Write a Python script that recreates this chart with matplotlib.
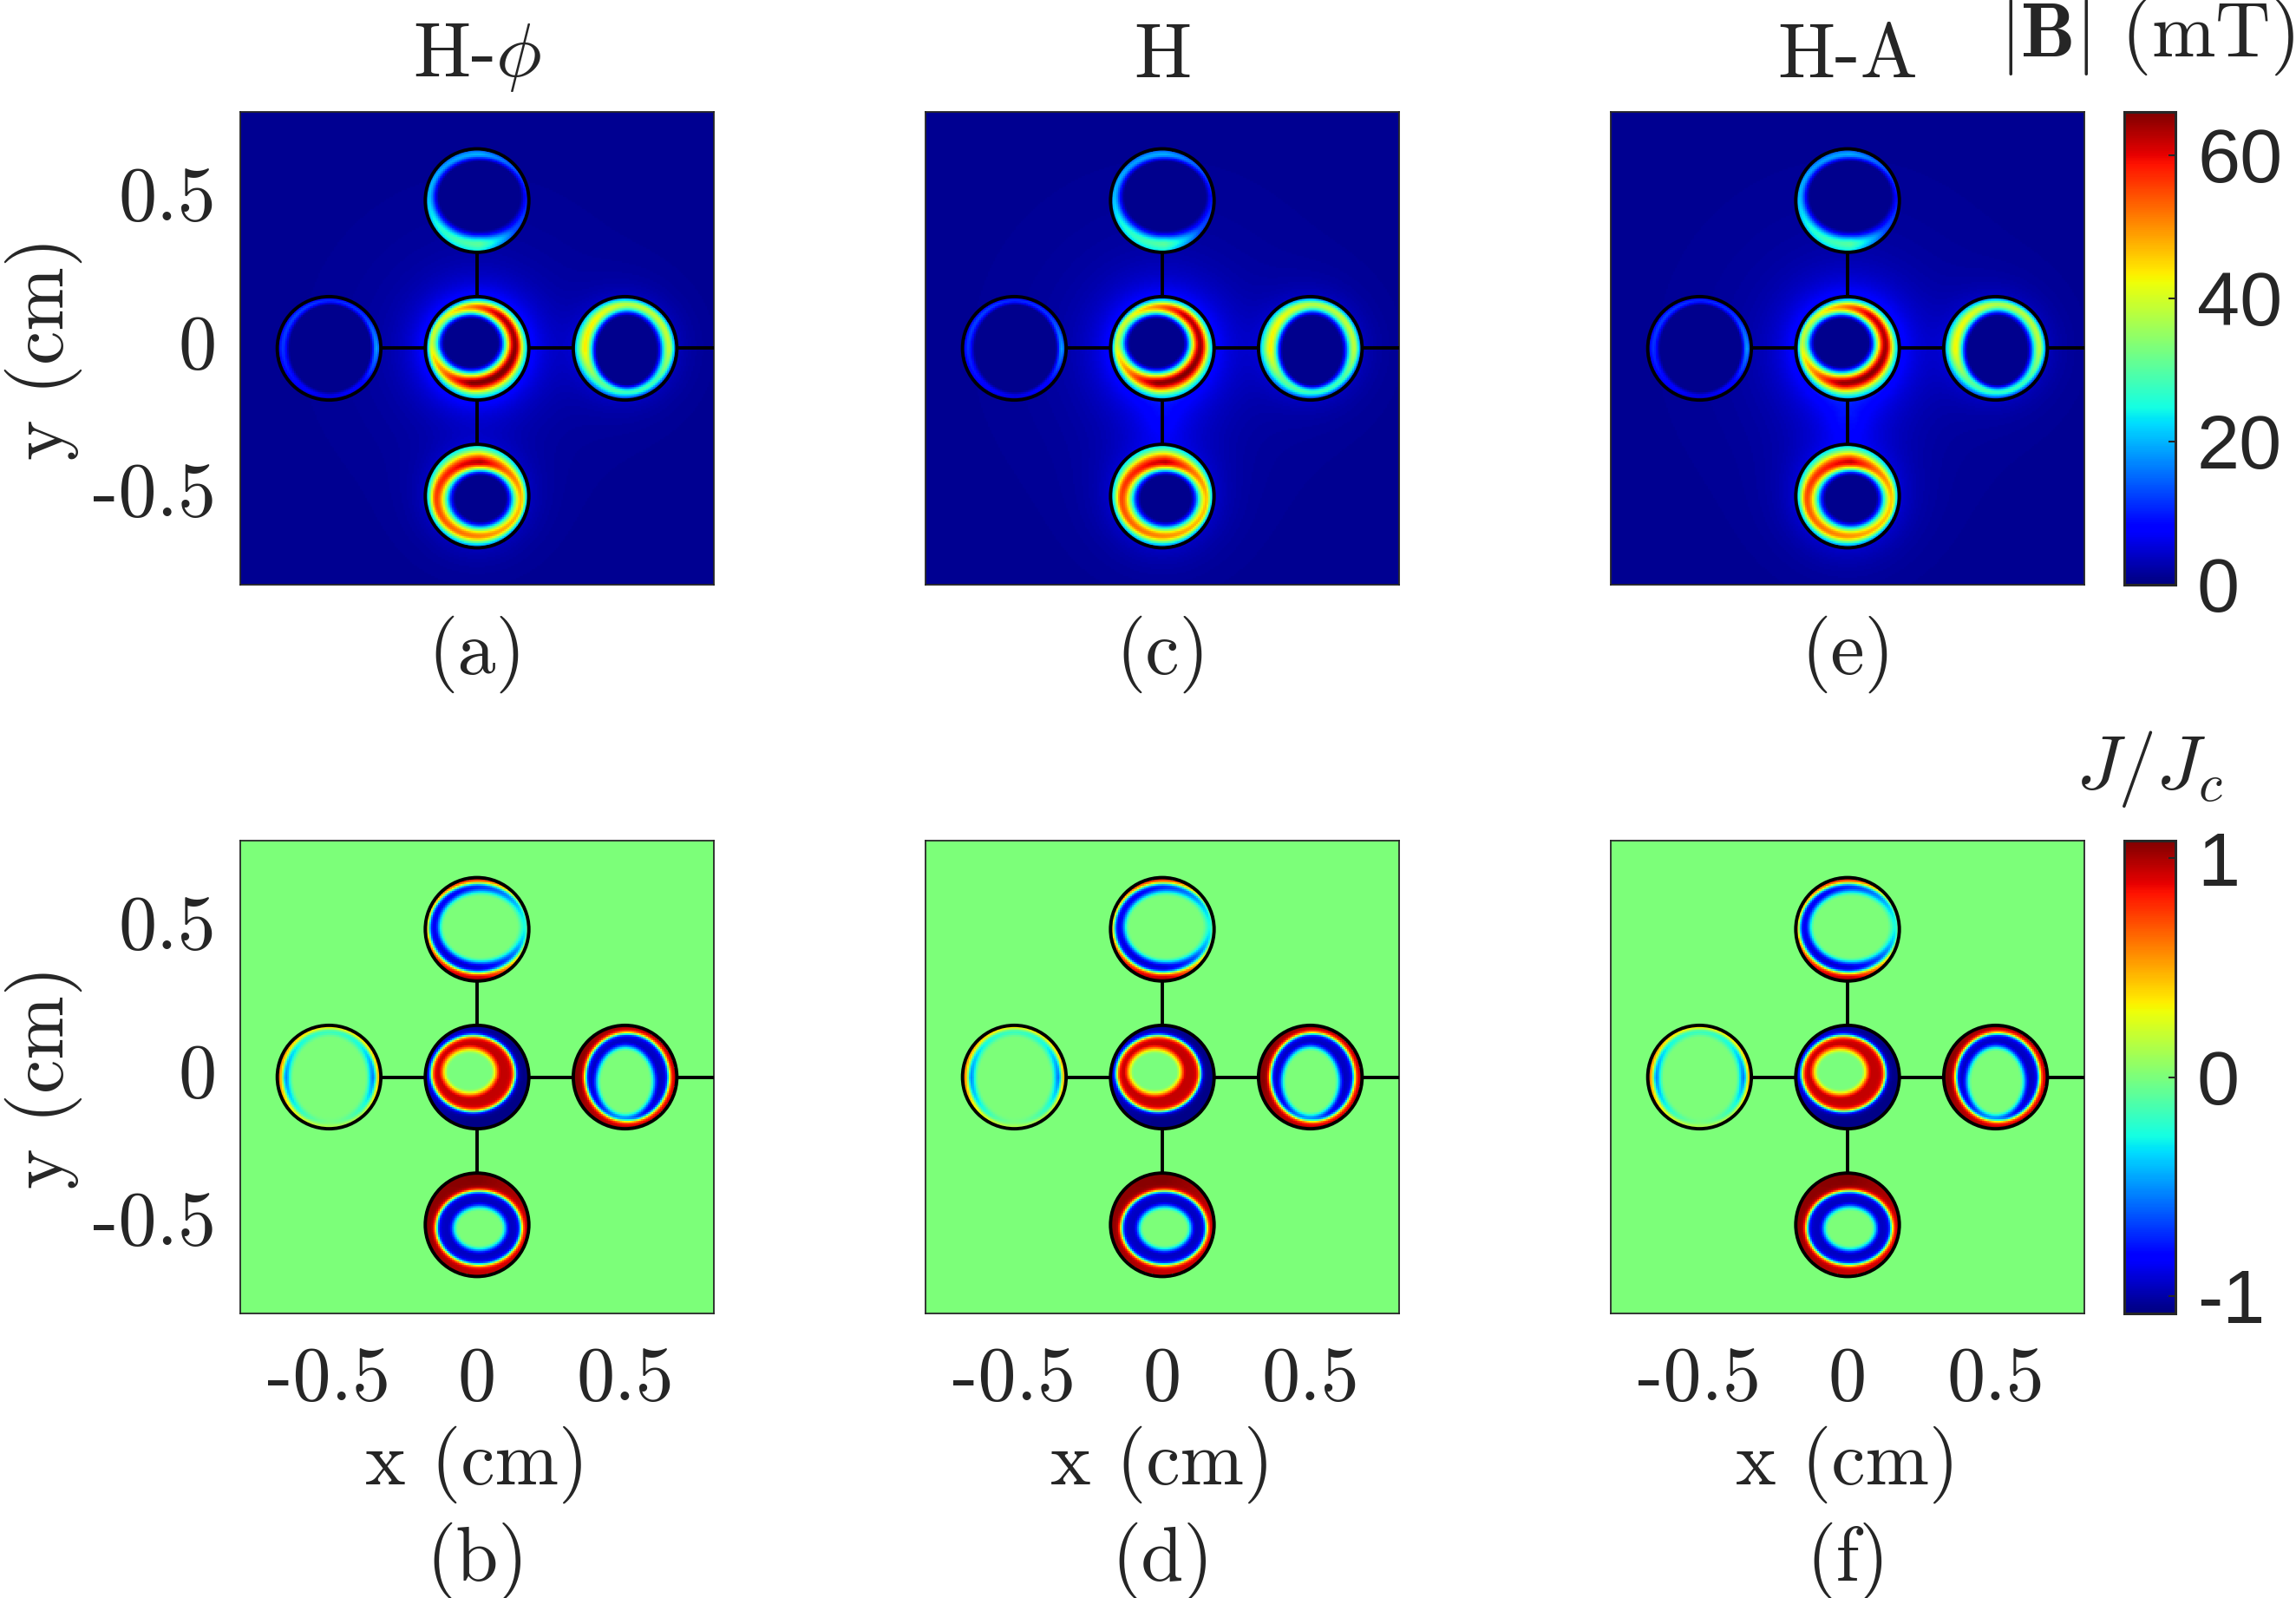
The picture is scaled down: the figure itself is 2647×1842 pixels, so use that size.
import numpy as np
import matplotlib
matplotlib.use("Agg")
import matplotlib.pyplot as plt
from matplotlib.patches import Circle
from matplotlib.transforms import ScaledTranslation

plt.rcParams.update({
    "font.family": "cmr10", "mathtext.fontset": "cm", "mathtext.default": "regular",
    "axes.unicode_minus": False, "axes.formatter.use_mathtext": True,
})

# ---- labels -------------------------------------------------------------
col_titles = [r"H-$\mathit{\phi}$", "H", "H-A"]
top_letters = ["(a)", "(c)", "(e)"]
bottom_letters = ["(b)", "(d)", "(f)"]
axis_ticks = [-0.5, 0, 0.5]
axis_ticklabels = ["-0.5", "0", "0.5"]
b_ticks = [0, 20, 40, 60]
j_ticks = [-1, 0, 1]
b_max = 66.0
j_max = 1.08

# ---- superconducting discs (cm) -----------------------------------------
disc_centres = [(0.0, 0.0), (0.5, 0.0), (0.0, -0.5), (0.0, 0.5), (-0.5, 0.0)]
disc_radius = 0.174

# Values, per disc, order as disc_centres.
# Ellipses: (dx, dy, ax, ay) relative to disc centre.
b_hole = [(-0.020, 0.019, 0.088, 0.080), (0.008, -0.007, 0.098, 0.115),
          (0.012, -0.010, 0.082, 0.075), (0.009, 0.018, 0.135, 0.115),
          (0.002, 0.000, 0.135, 0.146)]
ridge = [(-0.013, 0.012, 0.142, 0.130), (0.009, 0.000, 0.142, 0.150),
         (0.006, -0.013, 0.144, 0.125), (0.004, 0.007, 0.1675, 0.152),
         (0.000, 0.000, 0.158, 0.163)]
# Peak |B| (mT) at E, NE, N, NW, W, SW, S, SE
b_peak = [[64, 62, 50, 40, 38, 50, 65, 66],
          [38, 38, 37, 42, 43, 31, 27, 28],
          [46, 52, 62, 58, 55, 52, 50, 47],
          [9, 14, 19, 18, 20, 26, 30, 13],
          [18, 11, 10, 12, 11, 8, 5, 8]]
b_edge_frac = [0.30, 0.42, 0.35, 0.75, 0.6]
j_hole = [(-0.025, 0.019, 0.079, 0.068), (0.003, -0.015, 0.088, 0.110),
          (0.008, -0.014, 0.079, 0.064), (0.0115, 0.0105, 0.130, 0.110),
          (-0.001, -0.002, 0.128, 0.143)]
j_sign = [1, -1, -1, -1, -1]
# Inner and outer layer strength, at E, NE, N, NW, W, SW, S, SE
j_inner = [[.95, .95, .95, .95, .95, .95, .95, .95],
           [.95, .95, .95, .95, .95, .95, .95, .95],
           [.95, .95, .95, .95, .95, .95, .95, .95],
           [.35, .65, .80, .90, .90, .95, .95, .70],
           [.75, .45, .40, .50, .75, .50, .05, .35]]
j_outer = [[1.06, 1.06, 1.00, 1.00, .95, 1.00, 1.06, 1.06],
           [.95, 1.0, 1.0, 1.05, 1.07, 1.0, .95, .95],
           [.95, 1.0, 1.07, 1.05, 1.05, 1.0, .95, .95],
           [.30, .70, .90, .85, .80, .90, 1.0, .60],
           [.70, .50, .45, .55, .70, .40, .15, .25]]

# Glow of |B| outside discs per column: (x, y, radius, amplitude, decay)
b_floor = 1.0
glow_sources = [
    [(0, 0, .175, 6.5, .06), (0, 0, .175, 1.5, .25), (.5, 0, .175, 2.5, .05), (0, -.5, .175, 2.5, .05)],
    [(0, 0, .175, 6.0, .07), (0, 0, .175, 1.5, .28), (.5, 0, .175, 2.5, .05), (0, -.5, .175, 3.0, .06), (0, -.25, .03, 3.0, .07)],
    [(0, 0, .175, 6.5, .07), (0, 0, .175, 1.5, .28), (.5, 0, .175, 2.5, .05), (0, -.5, .175, 3.5, .06), (0, -.25, .03, 3.5, .07)],
]
b_col_scale = [1.0, 0.99, 0.98]

# ---- field helpers ------------------------------------------------------
n = 273
axis_lim = 0.8
xs = np.linspace(-axis_lim, axis_lim, n)
X, Y = np.meshgrid(xs, xs)


def ray(dx, dy, e):
    """Distance along unit rays (dx,dy) from origin to ellipse e=(cx,cy,a,b)."""
    cx, cy, a, b = e
    A = (dx / a) ** 2 + (dy / b) ** 2
    B = -2 * (dx * cx / a ** 2 + dy * cy / b ** 2)
    C = (cx / a) ** 2 + (cy / b) ** 2 - 1
    return (-B + np.sqrt(np.maximum(B * B - 4 * A * C, 0))) / (2 * A)


def polar(mask_x, mask_y, h):
    ox, oy = mask_x - h[0], mask_y - h[1]
    r = np.hypot(ox, oy) + 1e-9
    th = np.arctan2(oy, ox)
    return r, th, ox / r, oy / r


def sstep(v):
    v = np.clip(v, 0, 1)
    return v * v * (3 - 2 * v)


angles = np.arange(8) * np.pi / 4


def field_b(col):
    out = np.full(X.shape, b_floor)
    for x0, y0, rad, amp, dec in glow_sources[col]:
        out += amp * np.exp(-np.maximum(np.hypot(X - x0, Y - y0) - rad, 0) / dec)
    for i, (cx, cy) in enumerate(disc_centres):
        lx, ly = X - cx, Y - cy
        m = np.hypot(lx, ly) <= disc_radius
        r, th, dx, dy = polar(lx[m], ly[m], b_hole[i])
        shift = (b_hole[i][0], b_hole[i][1])
        rh = ray(dx, dy, (0, 0, b_hole[i][2], b_hole[i][3]))
        rr = ray(dx, dy, (ridge[i][0] - shift[0], ridge[i][1] - shift[1], ridge[i][2], ridge[i][3]))
        re = ray(dx, dy, (-shift[0], -shift[1], disc_radius, disc_radius))
        rr = np.minimum(np.maximum(rr, rh + 0.004), re - 0.001)
        A = np.interp(th, angles, b_peak[i], period=2 * np.pi) * b_col_scale[col]
        v1 = (r - rh) / (rr - rh)
        v2 = (r - rr) / (re - rr)
        val = np.where(r < rr, A * sstep(v1),
                       A * (1 - (1 - b_edge_frac[i]) * sstep(v2)))
        out[m] = val + 0.8
    return out


def field_j():
    out = np.zeros(X.shape)
    for i, (cx, cy) in enumerate(disc_centres):
        lx, ly = X - cx, Y - cy
        m = np.hypot(lx, ly) <= disc_radius
        r, th, dx, dy = polar(lx[m], ly[m], j_hole[i])
        shift = (j_hole[i][0], j_hole[i][1])
        rh = ray(dx, dy, (0, 0, j_hole[i][2], j_hole[i][3]))
        rr = ray(dx, dy, (ridge[i][0] - shift[0], ridge[i][1] - shift[1], ridge[i][2], ridge[i][3]))
        Ai = np.interp(th, angles, j_inner[i], period=2 * np.pi)
        Ao = np.interp(th, angles, j_outer[i], period=2 * np.pi)
        ramp = sstep((r - rh + 0.008) / 0.036)
        T = np.tanh((r - rr) / 0.009)
        val = Ai * ramp * (1 - T) / 2 - Ao * (1 + T) / 2
        out[m] = j_sign[i] * val
    return out


# ---- layout (pixels of the 2647x1842 figure) ----------------------------
W, H = 2647, 1842
fig = plt.figure(figsize=(W / 100, H / 100), dpi=100, facecolor="white")
FS = 63.5
LW = 2.8
DARK = "#262626"


def axpx(l, t, r, b):
    return fig.add_axes([l / W, 1 - b / H, (r - l) / W, (b - t) / H])


col_l = [277, 1067, 1857]
axw = 546
row_t = [129, 969]
axh = 545
r0 = disc_radius + 0.001

J = field_j()
for row in range(2):
    for col in range(3):
        ax = axpx(col_l[col], row_t[row], col_l[col] + axw, row_t[row] + axh)
        if row == 0:
            im = ax.imshow(field_b(col), origin="lower", cmap="jet", vmin=0, vmax=b_max,
                           extent=[-axis_lim, axis_lim, -axis_lim, axis_lim],
                           interpolation="nearest", aspect="auto")
            im_b = im
        else:
            im = ax.imshow(J, origin="lower", cmap="jet", vmin=-j_max, vmax=j_max,
                           extent=[-axis_lim, axis_lim, -axis_lim, axis_lim],
                           interpolation="nearest", aspect="auto")
            im_j = im
        # connecting wires between discs
        for x0, x1 in ((-0.5 + r0, -r0), (r0, 0.5 - r0), (0.5 + r0, axis_lim)):
            ax.plot([x0, x1], [0, 0], color="k", lw=LW, solid_capstyle="butt", zorder=3)
        for y0, y1 in ((-0.5 + r0, -r0), (r0, 0.5 - r0)):
            ax.plot([0, 0], [y0, y1], color="k", lw=LW, solid_capstyle="butt", zorder=3)
        for cx, cy in disc_centres:
            ax.add_patch(Circle((cx, cy), r0, fill=False, ec="k", lw=LW, zorder=4))
        ax.set_xlim(-axis_lim, axis_lim)
        ax.set_ylim(-axis_lim, axis_lim)
        ax.tick_params(length=0, labelsize=FS, colors=DARK)
        ax.set_xticks(axis_ticks)
        ax.set_yticks(axis_ticks)
        if row == 1:
            ax.set_xticklabels(axis_ticklabels)
            ax.tick_params(axis="x", pad=27)
        else:
            ax.set_xticklabels([])
        if col == 0:
            ax.set_yticklabels(axis_ticklabels)
            ax.tick_params(axis="y", pad=20)
            up = ScaledTranslation(0, 8 / 100, fig.dpi_scale_trans)
            for lab in ax.get_yticklabels():
                lab.set_transform(lab.get_transform() + up)
        else:
            ax.set_yticklabels([])
        for s in ax.spines.values():
            s.set_linewidth(1.3)
            s.set_color(DARK)
        cx_px = (col_l[col] + axw / 2) / W
        if row == 0:
            fig.text(cx_px, 1 - 66 / H, col_titles[col], ha="center", va="center", fontsize=FS, color=DARK)
            fig.text(cx_px, 1 - 754 / H, top_letters[col], ha="center", va="center", fontsize=FS, color=DARK)
        else:
            fig.text(cx_px, 1 - 1688 / H, "x (cm)", ha="center", va="center", fontsize=FS, color=DARK)
            fig.text(cx_px, 1 - 1799 / H, bottom_letters[col], ha="center", va="center", fontsize=FS, color=DARK)
        if col == 0:
            fig.text(50 / W, 1 - (row_t[row] + axh / 2) / H, "y (cm)", rotation=90,
                     ha="center", va="center", fontsize=FS, color=DARK)

# ---- colourbars ---------------------------------------------------------
for im, top, ticks in ((im_b, row_t[0], b_ticks), (im_j, row_t[1], j_ticks)):
    cax = axpx(2449, top, 2508, top + axh)
    cb = fig.colorbar(im, cax=cax, ticks=ticks)
    cb.outline.set_linewidth(2.2)
    cb.outline.set_edgecolor(DARK)
    cb.ax.tick_params(direction="in", length=6, width=1.5, color=DARK, pad=18)
    cb.ax.set_yticklabels([str(t) for t in ticks], family="Liberation Sans", fontsize=FS, color=DARK)

fig.text(2645 / W, 1 - 42 / H, r"$\mathit{|}\mathbf{B}\mathit{|}$ (mT)", ha="right", va="center", fontsize=FS, color=DARK)
fig.text(2478 / W, 1 - 886 / H, r"$\mathit{J/J_c}$", ha="center", va="center", fontsize=FS, color=DARK)

fig.savefig("out.png", dpi=100)
